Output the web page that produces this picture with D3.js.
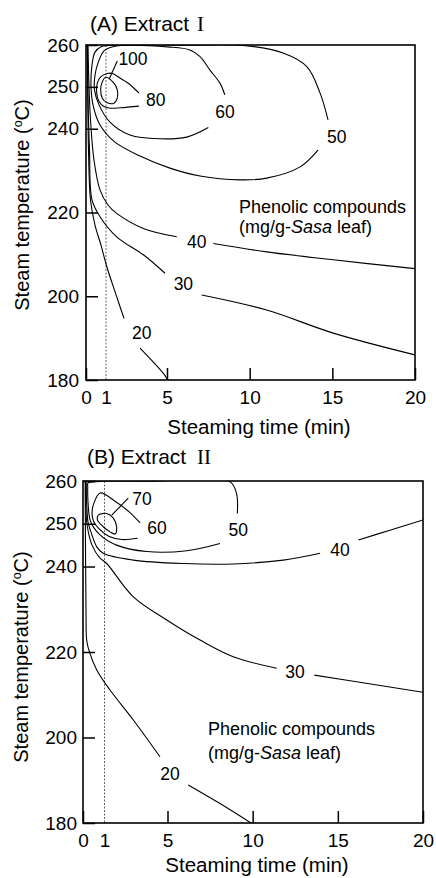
<!DOCTYPE html>
<html>
<head>
<meta charset="UTF-8">
<title>Phenolic compounds - steaming contour maps</title>
<script src="https://cdn.jsdelivr.net/npm/d3@7"></script>
<style>
  body { margin: 0; background: #fff; }
  svg text { font-family: Arial, "Liberation Sans", sans-serif; fill: #000; }
</style>
</head>
<body>
<script>
// axes
const timeBreaks = [0, 1, 5, 20];          // the printed time axis is stretched between 0 and 1 min
const timeTicks = [0, 1, 5, 10, 15, 20];
const tempDomain = [180, 260];
const tempTicks = [180, 200, 220, 240, 250, 260];

// (A) Extract I : contour pieces, points are [time (min), temperature (°C)]
const extractI_100 = [[[0.985,252.3],[1.52,250.9],[1.74,249.3],[1.74,247.3],[1.52,246.1],[1.085,246.2],[0.815,247.3],[0.735,249.3],[0.815,251.2],[0.985,252.3]]];
const extractI_80 = [[[3.16,248.5],[2.62,250.4],[1.96,252.0],[1.41,253.2],[1.085,253.2],[0.735,252.4],[0.565,250.9],[0.535,248.5],[0.65,246.5],[0.9,245.3],[1.31,244.9],[1.96,245.0],[3.16,245.4]]];
const extractI_60 = [[[8.5,248.1],[8.2,250.9],[7.6,254.0],[7.0,257.2],[6.39,258.8],[5.18,259.5],[1.46,259.6],[0.9,258.6],[0.615,255.9],[0.45,252.8],[0.425,249.3],[0.65,245.7],[1.26,241.6],[2.57,238.5],[4.54,237.6],[6.19,238.0],[7.5,240.3]]];
const extractI_50 = [[[14.74,242.1],[14.26,248.5],[13.47,254.8],[12.02,258.1],[9.6,259.9],[6.0,259.95],[1.2,259.9],[0.75,259.6],[0.45,258.3],[0.3,255.2],[0.25,250.4],[0.35,245.7],[0.7,240.9],[1.59,236.8],[3.23,233.5],[5.18,230.6],[7.0,228.7],[9.42,227.8],[11.03,228.2],[13.05,230.9],[14.13,234.9]]];
const extractI_40 = [
  [[0.1,260],[0.14,251.6],[0.225,242.1],[0.4,232.5],[0.7,225.4],[1.13,221.8],[1.7,219.8],[3.45,216.2],[5.59,214.2]],
  [[7.8,212.6],[11.03,210.6],[15.06,208.7],[20,206.6]]
];
const extractI_30 = [
  [[0.075,260],[0.1,246.9],[0.175,234.9],[0.3,223.0],[0.7,219.0],[1.7,214.2],[3.45,209.9],[4.87,205.5]],
  [[7.1,200.3],[11.03,196.7],[15.06,191.2],[20,186.0]]
];
const extractI_20 = [
  [[0.065,260],[0.09,246.9],[0.125,234.9],[0.225,223.0],[0.45,217.0],[0.75,212.2],[1.05,207.1],[1.7,199.9],[2.18,194.7]],
  [[3.23,187.6],[4.92,180.8],[5.0,180]]
];
const extractI_labels = [[100,2.77,256.7],[80,4.26,246.9],[60,8.51,244.1],[50,15.27,238.1],[40,6.80,213.0],[30,5.99,203.1],[20,3.34,191.2]];
const extractI_leader = [[1.2,251.8],[1.74,256.2]];

// (B) Extract II
const extractII_70 = [[[0.71,252.0],[1.14,252.4],[1.56,251.3],[1.77,249.3],[1.67,247.6],[1.35,248.1],[0.94,249.3],[0.67,250.9],[0.71,252.0]]];
const extractII_60 = [[[3.1,246.6],[2.11,246.3],[1.27,247.1],[0.75,248.8],[0.49,250.6],[0.42,252.5],[0.5,254.7],[0.8,257.2],[1.69,255.2],[2.53,252.9],[3.26,250.2]]];
const extractII_50 = [[[9.1,252.4],[9.05,257.1],[8.67,259.8],[4,259.95],[0.79,259.9],[0.23,259.5],[0.22,258.7],[0.24,254.5],[0.35,250.6],[0.79,247.4],[1.77,245.0],[3.68,243.5],[6.13,243.7],[8.08,245.4]]];
const extractII_40 = [
  [[0.15,259.9],[0.16,256],[0.19,253],[0.23,250.5],[0.36,248.2],[0.64,244.6],[0.94,243.1],[2.83,241.5],[5.93,240.7],[8.86,240.6],[11.8,241.5],[13.96,243.1]],
  [[16.21,246.2],[18.06,248.5],[20,250.9]]
];
const extractII_30 = [
  [[0.12,259.9],[0.13,255.6],[0.16,251],[0.25,248],[0.42,245],[0.75,242.2],[1.14,240.7],[2.83,232.9],[4.95,227.5],[6.91,222.8],[8.86,218.9],[11.41,216.2]],
  [[13.62,214.6],[16.66,212.7],[20,210.6]]
];
const extractII_20 = [
  [[0.1,259.9],[0.12,241.5],[0.14,229.8],[0.17,222.8],[0.27,220.5],[0.64,215.8],[1.35,211.1],[2.83,204.1],[4.52,195.5]],
  [[6.22,188.9],[8.06,184.6],[9.9,180]]
];
const extractII_labels = [[70,3.38,255.8],[60,4.33,249.0],[50,9.16,248.5],[40,15.13,243.9],[30,12.49,215.4],[20,5.15,191.6]];
const extractII_leader = [[1.46,252.0],[2.51,256.0]];

const panels = [
  {
    id: 'a', title: '(A) Extract', roman: 'I', titlePos: [90, 31], romanX: 197,
    xRange: [86, 106, 167, 415], yRange: [380, 45], yPad: 7, xPad: 10.5,
    contours: [extractI_100, extractI_80, extractI_60, extractI_50, extractI_40, extractI_30, extractI_20],
    labels: extractI_labels, leader: extractI_leader,
    note: [239, 213, 19.5], yTitle: [29, 205], xTitle: [259, 434]
  },
  {
    id: 'b', title: '(B) Extract', roman: 'II', titlePos: [87, 464], romanX: 197,
    xRange: [83, 104.5, 167.5, 423], yRange: [823, 481], yPad: 6, xPad: 10.5,
    contours: [extractII_70, extractII_60, extractII_50, extractII_40, extractII_30, extractII_20],
    labels: extractII_labels, leader: extractII_leader,
    note: [208, 734.5, 24.5], yTitle: [28, 657], xTitle: [257, 871.5]
  }
];

const svg = d3.select('body').append('svg')
  .attr('width', 436)
  .attr('height', 878);

const drawPanel = (p) => {
  const x = d3.scaleLinear().domain(timeBreaks).range(p.xRange);
  const y = d3.scaleLinear().domain(tempDomain).range(p.yRange);
  const left = p.xRange[0], right = p.xRange[p.xRange.length - 1];
  const bottom = p.yRange[0], top = p.yRange[1];
  const g = svg.append('g');

  g.append('clipPath').attr('id', 'clip-' + p.id)
    .append('rect')
    .attr('x', left).attr('y', top)
    .attr('width', right - left).attr('height', bottom - top);

  // 1 min guide
  g.append('line')
    .attr('x1', x(1)).attr('x2', x(1))
    .attr('y1', top).attr('y2', bottom)
    .attr('stroke', '#555')
    .attr('stroke-width', 0.9)
    .attr('stroke-dasharray', '2,1.5');

  const open = d3.line().x(d => x(d[0])).y(d => y(d[1])).curve(d3.curveCatmullRom.alpha(0.5));
  const closed = d3.line().x(d => x(d[0])).y(d => y(d[1])).curve(d3.curveCatmullRomClosed.alpha(0.5));

  const cg = g.append('g')
    .attr('clip-path', `url(#clip-${p.id})`)
    .attr('fill', 'none')
    .attr('stroke', '#000')
    .attr('stroke-width', 1.1);

  p.contours.forEach(pieces => pieces.forEach(pc => {
    const a = pc[0], b = pc[pc.length - 1];
    const isClosed = a[0] === b[0] && a[1] === b[1];
    cg.append('path').attr('d', isClosed ? closed(pc.slice(0, -1)) : open(pc));
  }));

  cg.append('path')
    .attr('d', d3.line().x(d => x(d[0])).y(d => y(d[1]))(p.leader));

  g.append('g').selectAll('text')
    .data(p.labels)
    .join('text')
    .attr('x', d => x(d[1]))
    .attr('y', d => y(d[2]))
    .attr('dy', '0.36em')
    .attr('text-anchor', 'middle')
    .attr('font-size', 17.5)
    .text(d => d[0]);

  // axes, ticks pointing inwards
  const yAxis = d3.axisLeft(y).tickValues(tempTicks).tickSizeInner(-12).tickSizeOuter(0).tickPadding(p.yPad);
  g.append('g')
    .attr('transform', `translate(${left},0)`)
    .call(yAxis)
    .call(a => a.select('.domain').remove())
    .call(a => a.selectAll('line').attr('stroke-width', 1.5))
    .attr('font-size', 19)
    .attr('font-family', null);

  const xAxis = d3.axisBottom(x).tickValues(timeTicks).tickSizeInner(-12).tickSizeOuter(0).tickPadding(p.xPad);
  g.append('g')
    .attr('transform', `translate(0,${bottom})`)
    .call(xAxis)
    .call(a => a.select('.domain').remove())
    .call(a => a.selectAll('.tick').filter(d => d === 1).select('line').remove())
    .call(a => a.selectAll('line').attr('stroke-width', 1.5))
    .attr('font-size', 19)
    .attr('font-family', null);

  g.append('rect')
    .attr('x', left).attr('y', top)
    .attr('width', right - left).attr('height', bottom - top)
    .attr('fill', 'none')
    .attr('stroke', '#000')
    .attr('stroke-width', 1.6);

  // panel title
  const t = g.append('text')
    .attr('x', p.titlePos[0]).attr('y', p.titlePos[1])
    .attr('font-size', 21)
    .text(p.title);
  t.append('tspan')
    .attr('x', p.romanX)
    .style('font-family', '"Liberation Serif", "Times New Roman", serif')
    .attr('font-size', 21)
    .text(p.roman);

  // axis titles
  g.append('text')
    .attr('x', p.xTitle[0]).attr('y', p.xTitle[1])
    .attr('text-anchor', 'middle')
    .attr('font-size', 20.5)
    .text('Steaming time (min)');

  const yt = g.append('text')
    .attr('transform', `translate(${p.yTitle[0]},${p.yTitle[1]}) rotate(-90)`)
    .attr('text-anchor', 'middle')
    .attr('font-size', 20)
    .text('Steam temperature (');
  yt.append('tspan').attr('font-size', 12.5).attr('dy', -7.5).text('o');
  yt.append('tspan').attr('dy', 7.5).text('C)');

  // note
  const n = g.append('g').attr('font-size', 18);
  n.append('text').attr('x', p.note[0]).attr('y', p.note[1]).text('Phenolic compounds');
  const n2 = n.append('text').attr('x', p.note[0]).attr('y', p.note[1] + p.note[2]).text('(mg/g-');
  n2.append('tspan').attr('font-style', 'italic').text('Sasa');
  n2.append('tspan').text(' leaf)');
};

panels.forEach(drawPanel);
</script>
</body>
</html>
